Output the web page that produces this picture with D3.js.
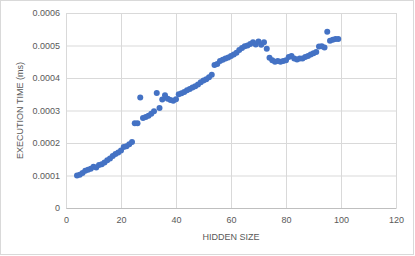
<!DOCTYPE html>
<html>
<head>
<meta charset="utf-8">
<script src="https://cdn.jsdelivr.net/npm/d3@7"></script>
<style>
  body { margin: 0; background: #fff; }
  text { font-family: "Liberation Sans", Arial, sans-serif; fill: #595959; }
</style>
</head>
<body>
<div id="chart"></div>
<script>
// hidden size values (x)
const hiddenSize = [
  4, 5, 6, 7, 8, 9, 10, 11, 12, 13, 14, 15, 16, 17, 18, 19, 20, 21, 22, 23, 24,
  25, 26, 27, 28, 29, 30, 31, 32, 33, 34, 35, 36, 37, 38, 39, 40,
  41, 42, 43, 44, 45, 46, 47, 48, 49, 50, 51, 52, 53,
  54, 55, 56, 57, 58, 59, 60, 61, 62, 63, 64, 65, 66, 67, 68, 69, 70, 71, 72, 73,
  74, 75, 76, 77, 78, 79, 80, 81, 82, 83, 84, 85, 86, 87, 88, 89, 90, 91,
  92, 93, 94, 95, 96, 97, 98, 99
];

// execution time in ms (y)
const execTime = [
  0.000100, 0.000102, 0.000108, 0.000115, 0.000118, 0.000121, 0.000127, 0.000125,
  0.000132, 0.000135, 0.000140, 0.000147, 0.000152, 0.000160, 0.000166, 0.000171,
  0.000177, 0.000188, 0.000190, 0.000196, 0.000203,
  0.000261, 0.000261, 0.000340, 0.000277, 0.000280, 0.000284, 0.000290, 0.000298,
  0.000354, 0.000308, 0.000334, 0.000347, 0.000336, 0.000332, 0.000330, 0.000335,
  0.000350, 0.000353, 0.000357, 0.000362, 0.000366, 0.000371, 0.000375, 0.000380,
  0.000387, 0.000392, 0.000396, 0.000402, 0.000410,
  0.000440, 0.000443, 0.000452, 0.000456, 0.000460, 0.000463, 0.000468, 0.000472,
  0.000478, 0.000486, 0.000492, 0.000498, 0.000500, 0.000505, 0.000510, 0.000503,
  0.000512, 0.000502, 0.000510, 0.000490,
  0.000462, 0.000455, 0.000450, 0.000452, 0.000450, 0.000452, 0.000455, 0.000465,
  0.000468, 0.000460, 0.000457, 0.000460, 0.000460, 0.000465, 0.000468, 0.000472,
  0.000476, 0.000480,
  0.000497, 0.000498, 0.000494, 0.000542, 0.000515, 0.000518, 0.000520, 0.000520
];

const xTicks = [0, 20, 40, 60, 80, 100, 120];
const yTicks = [0, 0.0001, 0.0002, 0.0003, 0.0004, 0.0005, 0.0006];
const yTickLabels = ["0", "0.0001", "0.0002", "0.0003", "0.0004", "0.0005", "0.0006"];

const width = 415, height = 256;
const margin = {left: 66, right: 19, top: 13, bottom: 48};

let svg = d3.select("#chart")
  .append("svg")
  .attr("width", width)
  .attr("height", height);

// chart border
svg.append("rect")
  .attr("x", 0.5).attr("y", 0.5)
  .attr("width", width - 2).attr("height", height - 2)
  .attr("fill", "#fff")
  .attr("stroke", "#d9d9d9");

let x = d3.scaleLinear().domain([0, 120]).range([margin.left, width - margin.right]);
let y = d3.scaleLinear().domain([0, 0.0006]).range([height - margin.bottom, margin.top]);

// gridlines
svg.append("g")
  .attr("transform", "translate(" + margin.left + ",0)")
  .call(d3.axisLeft(y).tickValues(yTicks).tickSize(-(width - margin.left - margin.right)).tickFormat(""))
  .call(g => g.select(".domain").remove())
  .call(g => g.selectAll("line").attr("stroke", "#d9d9d9"));

svg.append("g")
  .attr("transform", "translate(0," + (height - margin.bottom) + ")")
  .call(d3.axisBottom(x).tickValues(xTicks).tickSize(-(height - margin.top - margin.bottom)).tickFormat(""))
  .call(g => g.select(".domain").remove())
  .call(g => g.selectAll("line").attr("stroke", "#d9d9d9"));

// x axis line + labels
let xAxis = svg.append("g")
  .attr("transform", "translate(0," + (height - margin.bottom) + ")")
  .call(d3.axisBottom(x).tickValues(xTicks).tickSize(0).tickPadding(9).tickFormat(d3.format("d")));
xAxis.select(".domain").attr("stroke", "#bfbfbf");
xAxis.selectAll("text").style("font-size", "9px").attr("fill", "#595959");

// y axis labels
let yAxis = svg.append("g")
  .attr("transform", "translate(" + margin.left + ",0)")
  .call(d3.axisLeft(y).tickValues(yTicks).tickSize(0).tickPadding(6)
    .tickFormat((d, i) => yTickLabels[i]));
yAxis.select(".domain").remove();
yAxis.selectAll("text").style("font-size", "9px").attr("fill", "#595959");

// axis titles
svg.append("text")
  .attr("x", (margin.left + width - margin.right) / 2)
  .attr("y", 240)
  .attr("text-anchor", "middle")
  .style("font-size", "9px")
  .text("HIDDEN SIZE");

svg.append("text")
  .attr("transform", "translate(23," + ((margin.top + height - margin.bottom) / 2) + ") rotate(-90)")
  .attr("text-anchor", "middle")
  .style("font-size", "9px")
  .text("EXECUTION TIME (ms)");

// points
let points = hiddenSize.map((d, i) => ({x: d, y: execTime[i]}));
svg.append("g")
  .selectAll("circle")
  .data(points)
  .enter()
  .append("circle")
    .attr("cx", d => x(d.x))
    .attr("cy", d => y(d.y))
    .attr("r", 3)
    .attr("fill", "#4472c4");
</script>
</body>
</html>
